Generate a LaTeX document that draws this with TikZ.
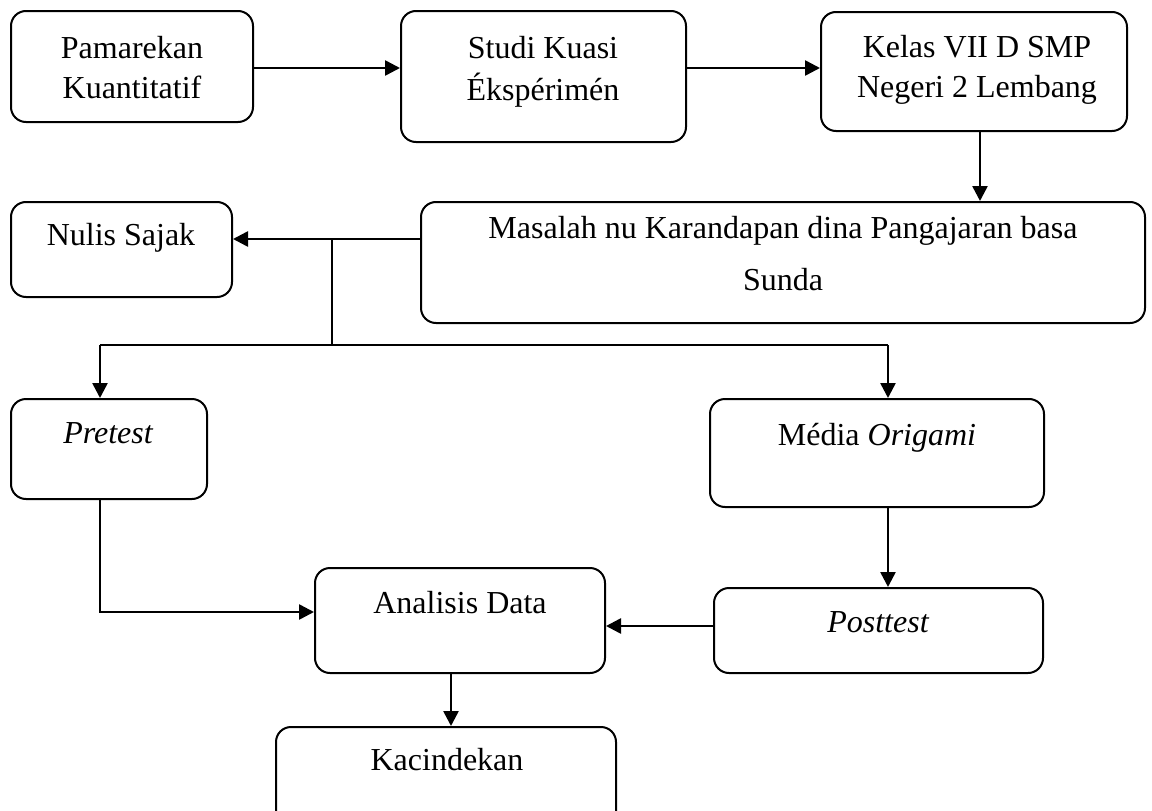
\documentclass[tikz,border=0pt]{standalone}
\usepackage{fontspec}
\setmainfont{Liberation Serif}
\usetikzlibrary{arrows.meta,calc}
\begin{document}
\begin{tikzpicture}[x=1pt,y=-1pt,
  box/.style={draw,line width=2pt,rounded corners=15pt},
  txt/.style={anchor=base,inner sep=0pt,font=\fontsize{32}{41}\selectfont},
  arr/.style={line width=2.6pt,-{Triangle[length=15pt,width=15pt]}},
  ln/.style={line width=2pt}]
\useasboundingbox (0,0) rectangle (1152,811);
% boxes
\node[box,minimum width=242pt,minimum height=111pt] (b1) at (132,66.5) {};
\node[box,minimum width=285pt,minimum height=131pt] (b2) at (543.5,76.5) {};
\node[box,minimum width=306pt,minimum height=119pt] (b3) at (974,71.5) {};
\node[box,minimum width=724pt,minimum height=121pt] (b4) at (783,262.5) {};
\node[box,minimum width=221pt,minimum height=95pt] (b5) at (121.5,249.5) {};
\node[box,minimum width=196pt,minimum height=100pt] (b6) at (109,449) {};
\node[box,minimum width=334pt,minimum height=108pt] (b7) at (877,453) {};
\node[box,minimum width=329pt,minimum height=85pt] (b8) at (878.5,630.5) {};
\node[box,minimum width=290pt,minimum height=105pt] (b9) at (460,620.5) {};
\node[box,minimum width=340pt,minimum height=103pt] (b10) at (446,778.5) {};
% texts
\node[txt] (t1a) at (132,58) {Pamarekan};
\node[txt] (t1b) at (132,98) {Kuantitatif};
\node[txt] (t2a) at (543,58) {Studi Kuasi};
\node[txt] (t2b) at (543,100) {Ékspérimén};
\node[txt] (t3a) at (977,57) {Kelas VII D SMP};
\node[txt] (t3b) at (977,97) {Negeri 2 Lembang};
\node[txt] (t4a) at (783,238) {Masalah nu Karandapan dina Pangajaran basa};
\node[txt] (t4b) at (783,290) {Sunda};
\node[txt] (t5) at (121,245) {Nulis Sajak};
\node[txt] (t6) at (108,443) {\itshape Pretest};
\node[txt] (t7) at (877,445) {Média \textit{Origami}};
\node[txt] (t8) at (878,632) {\itshape Posttest};
\node[txt] (t9) at (460,613) {Analisis Data};
\node[txt] (t10) at (447,770) {Kacindekan};
% helper coordinates
\coordinate (ya) at (0,68);
\coordinate (xa) at (980,0);
\coordinate (yb) at (0,239);
\coordinate (j1) at (332,239);
\coordinate (j2) at (332,345);
\coordinate (jl) at (100,345);
\coordinate (jr) at (888,345);
\coordinate (yc) at (0,626);
\coordinate (pc) at (100,612);
\coordinate (xd) at (451,0);
% connectors
\draw[arr] (b1.east |- ya) -- (b2.west |- ya);
\draw[arr] (b2.east |- ya) -- (b3.west |- ya);
\draw[arr] (b3.south -| xa) -- (b4.north -| xa);
\draw[arr] (b4.west |- yb) -- (b5.east |- yb);
\draw[ln] (j1) -- (j2);
\draw[ln] (jl) -- (jr);
\draw[arr] (jl) -- (b6.north -| jl);
\draw[arr] (jr) -- (b7.north -| jr);
\draw[arr] (b7.south -| jr) -- (b8.north -| jr);
\draw[arr] (b8.west |- yc) -- (b9.east |- yc);
\draw[arr] (b6.south -| pc) -- (pc) -- (b9.west |- pc);
\draw[arr] (b9.south -| xd) -- (b10.north -| xd);
\end{tikzpicture}
\end{document}
